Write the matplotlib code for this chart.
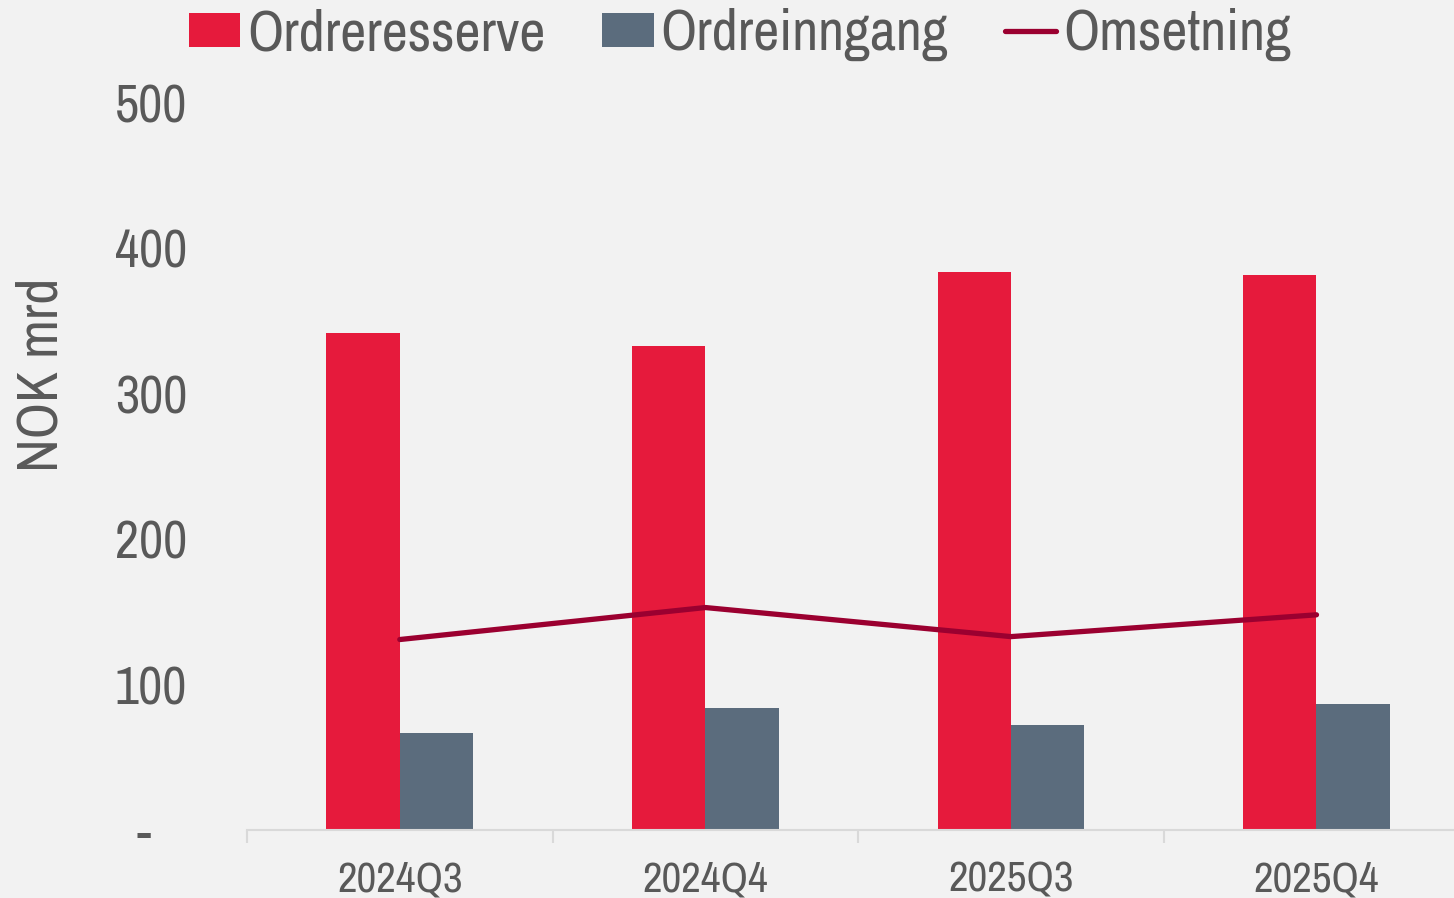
import matplotlib
matplotlib.use("Agg")
import matplotlib.pyplot as plt
from matplotlib import font_manager
import numpy as np

categories = ["2024Q3", "2024Q4", "2025Q3", "2025Q4"]
ordrereserve = [342, 333, 384, 382]
ordreinngang = [67, 84, 72, 87]
omsetning = [131, 153, 133, 148]
yticks = [0, 100, 200, 300, 400, 500]
yticklabels = ["-   ", "100", "200", "300", "400", "500"]

names = sorted({f.name for f in font_manager.fontManager.ttflist})
cands = [n for n in names if "Narrow" in n or "Condensed" in n]
fam = cands[0] if cands else "Liberation Sans"
plt.rcParams["font.family"] = [fam, "DejaVu Sans"]

bg = "#F2F2F2"
txt = "#595959"
fig = plt.figure(figsize=(14.54, 8.98), dpi=100, facecolor=bg)
ax = fig.add_axes([247/1454, 68/898, 1 - 247/1454, (795-68)/898])
ax.set_facecolor(bg)

x = np.arange(len(categories))
w = 0.24
b1 = ax.bar(x - w/2, ordrereserve, w, color="#E61A3C", label="Ordreresserve", zorder=2)
b2 = ax.bar(x + w/2, ordreinngang, w, color="#5B6C7D", label="Ordreinngang", zorder=2)
l1, = ax.plot(x, omsetning, color="#9B0030", lw=3.8, label="Omsetning", zorder=3,
              solid_capstyle="round")

ax.set_xlim(-0.5, 3.45)
ax.set_ylim(0, 500)
ax.set_yticks(yticks)
ax.set_yticklabels(yticklabels)
ax.tick_params(axis="y", length=0, pad=43, labelsize=38, labelcolor=txt)
ax.set_xticks(x)
ax.set_xticklabels(categories)
ax.set_xticks([-0.5, 0.5, 1.5, 2.5], minor=True)
ax.tick_params(axis="x", which="major", length=0, pad=22, labelsize=31, labelcolor=txt)
ax.tick_params(axis="x", which="minor", length=9, width=1.5, color="#D9D9D9")
for s in ["top", "right", "left"]:
    ax.spines[s].set_visible(False)
ax.spines["bottom"].set_color("#D9D9D9")
ax.spines["bottom"].set_linewidth(1.5)

ax.set_ylabel("NOK mrd", fontsize=41, color=txt)
ax.yaxis.set_label_coords(-0.149, 0.626)

fig.legend([b1, b2, l1], ["Ordreresserve", "Ordreinngang", "Omsetning"],
           loc="upper center", bbox_to_anchor=(0.509, 1.048), ncol=3, frameon=False,
           fontsize=41, labelcolor=txt, handlelength=0.9, handleheight=0.55,
           handletextpad=0.12, columnspacing=1.0)

fig.savefig("out.png", dpi=100, facecolor=bg)
